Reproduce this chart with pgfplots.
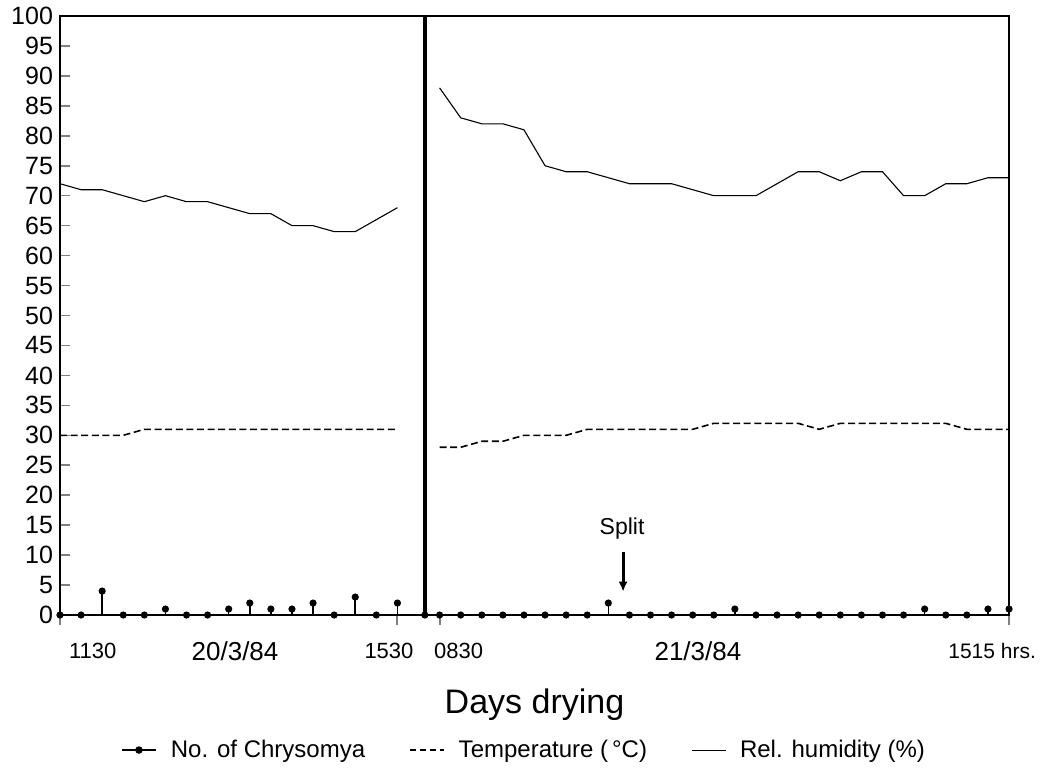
\documentclass[border=0pt]{standalone}
\usepackage{pgfplots}
\pgfplotsset{compat=1.18}
\usepackage{fontspec}
\setmainfont{Liberation Sans}
\usetikzlibrary{arrows.meta}
\begin{document}
\begin{tikzpicture}
\begin{axis}[
    scale only axis,
    width=474.5bp, height=299.5bp,
    xmin=0, xmax=45, ymin=0, ymax=100,
    clip=false,
    axis line style={line width=0.9bp},
    tick pos=left,
    tick align=inside,
    major tick length=5bp,
    ytick={0,5,...,100},
    xtick={0,16,18,45},
    xticklabels={,,,},
    x tick style={yshift=-5bp, line width=1bp},
    y tick style={line width=0.8bp},
    /pgf/number format/assume math mode=true,
    yticklabel style={font=\fontsize{12.5bp}{15bp}\selectfont},
    legend columns=3,
    legend cell align=left,
    legend style={at={(0.49,-0.2254)}, anchor=center, draw=none, fill=none,
        font=\fontsize{12bp}{14bp}\selectfont,
        /tikz/every odd column/.append style={column sep=5bp},
        /tikz/every even column/.append style={column sep=20bp}},
]
% legend entries
\addlegendimage{black, line width=0.9bp, mark=*, mark size=1.4bp}
\addlegendentry{No. of Chrysomya}
\addlegendimage{black, line width=0.8bp, dash pattern=on 3bp off 2bp}
\addlegendentry{Temperature (\,°C)}
\addlegendimage{black, line width=0.5bp}
\addlegendentry{Rel. humidity (\%)}

% relative humidity
\addplot[black, line width=0.55bp, forget plot] coordinates {
    (0,72)(1,71)(2,71)(3,70)(4,69)(5,70)(6,69)(7,69)(8,68)(9,67)(10,67)
    (11,65)(12,65)(13,64)(14,64)(15,66)(16,68)
};
\addplot[black, line width=0.55bp, forget plot] coordinates {
    (18,88)(19,83)(20,82)(21,82)(22,81)(23,75)(24,74)(25,74)(26,73)(27,72)
    (28,72)(29,72)(30,71)(31,70)(32,70)(33,70)(34,72)(35,74)(36,74)(37,72.5)
    (38,74)(39,74)(40,70)(41,70)(42,72)(43,72)(44,73)(45,73)
};

% temperature
\addplot[black, line width=0.8bp, dash pattern=on 3.5bp off 1.8bp, forget plot] coordinates {
    (0,30)(1,30)(2,30)(3,30)(4,31)(5,31)(6,31)(7,31)(8,31)(9,31)(10,31)
    (11,31)(12,31)(13,31)(14,31)(15,31)(16,31)
};
\addplot[black, line width=0.8bp, dash pattern=on 3.5bp off 1.8bp, forget plot] coordinates {
    (18,28)(19,28)(20,29)(21,29)(22,30)(23,30)(24,30)(25,31)(26,31)(27,31)
    (28,31)(29,31)(30,31)(31,32)(32,32)(33,32)(34,32)(35,32)(36,31)(37,32)
    (38,32)(39,32)(40,32)(41,32)(42,32)(43,31)(44,31)(45,31)
};

% day separator
\addplot[black, line width=2.2bp, forget plot] coordinates {(17.3,0) (17.3,100)};

% number of Chrysomya
\addplot[black, ycomb, line width=0.75bp, mark=*, mark size=1.4bp, forget plot] coordinates {
    (0,0)(1,0)(2,4)(3,0)(4,0)(5,1)(6,0)(7,0)(8,1)(9,2)(10,1)(11,1)(12,2)
    (13,0)(14,3)(15,0)(16,2)(17.3,0)
    (18,0)(19,0)(20,0)(21,0)(22,0)(23,0)(24,0)(25,0)(26,2)(27,0)(28,0)
    (29,0)(30,0)(31,0)(32,1)(33,0)(34,0)(35,0)(36,0)(37,0)(38,0)(39,0)
    (40,0)(41,1)(42,0)(43,0)(44,1)(45,1)
};

% x labels
\node[anchor=west, font=\fontsize{11bp}{13bp}\selectfont] at ([yshift=-18bp]axis cs:0.1,0) {1130};
\node[font=\fontsize{13bp}{15bp}\selectfont] at ([yshift=-18bp]axis cs:8.3,0) {20/3/84};
\node[font=\fontsize{11bp}{13bp}\selectfont] at ([yshift=-18bp]axis cs:15.6,0) {1530};
\node[font=\fontsize{11bp}{13bp}\selectfont] at ([yshift=-18bp]axis cs:18.9,0) {0830};
\node[font=\fontsize{13bp}{15bp}\selectfont] at ([yshift=-18bp]axis cs:30.25,0) {21/3/84};
\node[font=\fontsize{10.5bp}{12bp}\selectfont] at ([yshift=-18bp]axis cs:44.2,0) {1515 hrs.};

\node[font=\fontsize{17bp}{20bp}\selectfont] at (rel axis cs:0.5,-0.150) {Days drying};

% split marker
\node[font=\fontsize{11.5bp}{13bp}\selectfont] at (axis cs:26.65,14.5) {Split};
\draw[-{Latex[length=5bp,width=4.5bp]}, line width=1.5bp] (axis cs:26.7,10.6) -- (axis cs:26.7,3.9);

\path (rel axis cs:-0.0632,-0.2554) rectangle (rel axis cs:1.0379,1.0267);
\end{axis}
\end{tikzpicture}
\end{document}
